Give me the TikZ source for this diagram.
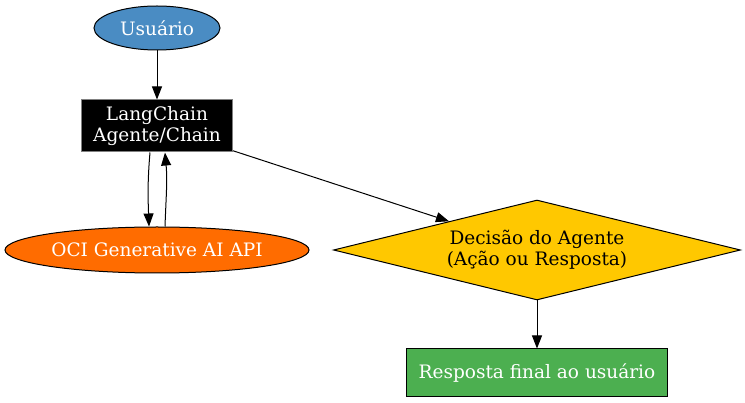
\documentclass[tikz,border=0pt]{standalone}
\usepackage{fontspec}
\setmainfont{DejaVu Serif}
\usetikzlibrary{shapes.geometric,arrows.meta}

\begin{document}
\begin{tikzpicture}[x=1pt,y=-1pt,
    font=\fontsize{18.5}{21}\selectfont,
    every node/.style={line width=1pt},
    arr/.style={line width=1pt,-{Triangle[length=13pt,width=10pt]}}]
  \useasboundingbox (0,0) rectangle (745,403);
  % nodes
  \node[ellipse,draw,fill={rgb,255:red,74;green,140;blue,195},text=white,
        minimum width=126pt,minimum height=44pt,inner sep=0pt] (user) at (157,28) {Usuário};
  \node[rectangle,draw=gray,fill=black,text=white,align=center,
        minimum width=151pt,minimum height=52pt,inner sep=0pt] (chain) at (157,126) {LangChain\\Agente/Chain};
  \node[ellipse,draw,fill={rgb,255:red,255;green,108;blue,0},text=white,
        minimum width=304pt,minimum height=46pt,inner sep=0pt] (oci) at (157,250) {OCI Generative AI API};
  \node[diamond,draw,fill={rgb,255:red,255;green,200;blue,0},align=center,aspect=4.07,
        minimum width=407pt,minimum height=100pt,inner sep=0pt] (decide) at (537,250) {Decisão do Agente\\(Ação ou Resposta)};
  \node[rectangle,draw,fill={rgb,255:red,76;green,175;blue,80},text=white,
        minimum width=261pt,minimum height=48pt,inner sep=0pt] (final) at (537,373) {Resposta final ao usuário};
  % connectors
  \draw[arr] (user) -- (chain);
  \draw[arr] ([xshift=-7pt]chain.south) to[out=265,in=92] ([xshift=-8pt]oci.north);
  \draw[arr] ([xshift=8pt]oci.north) to[out=88,in=275] ([xshift=8pt]chain.south);
  \draw[arr] (chain) -- (decide);
  \draw[arr] (decide) -- (final);
\end{tikzpicture}
\end{document}
